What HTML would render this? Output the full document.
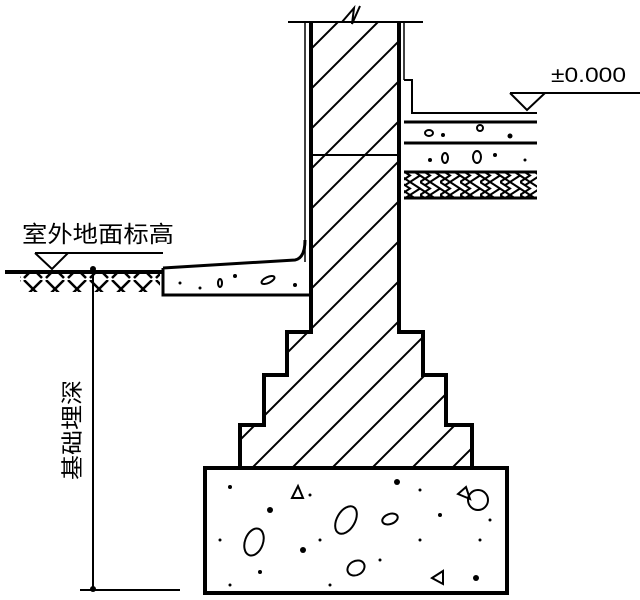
<!DOCTYPE html>
<html><head><meta charset="utf-8"><style>html,body{margin:0;padding:0;background:#fff}svg{display:block}</style></head>
<body>
<svg width="640" height="600" viewBox="0 0 640 600" xmlns="http://www.w3.org/2000/svg">
<defs>
<clipPath id="brick"><path d="M311,22 H399 V332 H423 V375 H446 V425 H472 V468 H240 V425 H264 V375 H287 V332 H311 Z"/></clipPath>
<pattern id="earth" width="22" height="20" patternUnits="userSpaceOnUse"><path d="M2,0 L20,18 M20,0 L2,18" stroke="#000" stroke-width="2.5" fill="none"/></pattern>
<pattern id="herr" width="20" height="13" patternUnits="userSpaceOnUse"><path d="M0,0 L10,6.5 L0,13 M10,0 L20,6.5 L10,13 M5,3.25 L15,-3.25 M15,9.75 L25,3.25 M5,9.75 L-5,3.25 M5,3.25 L-5,-3.25 M15,16.25 L5,9.75" stroke="#000" stroke-width="2" fill="none"/></pattern>
</defs>
<g clip-path="url(#brick)" stroke="#000" stroke-width="2">
<path d="M0,320 L320,0 M0,360 L360,0 M0,400 L400,0 M0,440 L440,0 M0,480 L480,0 M0,520 L520,0 M0,560 L560,0 M0,600 L600,0 M40,600 L640,0 M80,600 L680,0 M120,600 L720,0 M160,600 L760,0 M200,600 L800,0 M240,600 L840,0 M280,600 L880,0 M320,600 L920,0 M360,600 L960,0"/>
</g>
<path d="M311,22 V332 H287 V375 H264 V425 H240 V468 M399,22 V332 H423 V375 H446 V425 H472 V468" stroke="#000" stroke-width="4" fill="none"/>
<path d="M305,22 V262 M404,22 V80" stroke="#000" stroke-width="1.5" fill="none"/>
<path d="M288,22 H423" stroke="#000" stroke-width="2"/>
<path d="M342,22 L354,8 L352,24 L360,6" stroke="#000" stroke-width="2" fill="#fff"/>
<path d="M311,155 H399" stroke="#000" stroke-width="2"/>
<path d="M404,80 H412 V113 H537" stroke="#000" stroke-width="2" fill="none"/>
<path d="M404,122 H537 M404,143 H537 M404,172 H537 M404,198 H537" stroke="#000" stroke-width="3"/>
<rect x="404" y="173" width="133" height="24" fill="url(#herr)"/>
<g fill="none" stroke="#000" stroke-width="2">
<ellipse cx="429" cy="133" rx="4" ry="3"/><ellipse cx="480" cy="128" rx="3" ry="3"/>
<ellipse cx="445" cy="158" rx="3" ry="5"/><ellipse cx="477" cy="157" rx="4" ry="6"/>
</g>
<g fill="#000"><circle cx="443" cy="135" r="2"/><circle cx="510" cy="136" r="2.5"/><circle cx="495" cy="155" r="2"/><circle cx="430" cy="160" r="2"/><circle cx="525" cy="160" r="1.5"/></g>
<path d="M510,93 H640 M510,93 L527,110 L545,93" stroke="#000" stroke-width="2" fill="none"/>
<text x="551" y="82" font-family="Liberation Sans, sans-serif" font-size="21" fill="#000" textLength="75" lengthAdjust="spacingAndGlyphs">±0.000</text>
<text x="22" y="242" font-family="Liberation Sans, Noto Sans CJK SC, sans-serif" font-size="23" fill="#000" textLength="152" lengthAdjust="spacingAndGlyphs">室外地面标高</text>
<path d="M35,253 H163 M35,253 L52,269 L68,253" stroke="#000" stroke-width="2" fill="none"/>
<path d="M5,272 H163" stroke="#000" stroke-width="4"/>
<rect x="20" y="274" width="140" height="18" fill="url(#earth)"/>
<path d="M163,268 L295,260 Q305,258 305,240 M163,268 V295 H311" stroke="#000" stroke-width="3" fill="none"/>
<ellipse cx="268" cy="280" rx="7" ry="3" transform="rotate(-25 268 280)" fill="none" stroke="#000" stroke-width="2"/>
<ellipse cx="220" cy="283" rx="2" ry="4" fill="none" stroke="#000" stroke-width="2"/>
<g fill="#000"><circle cx="180" cy="283" r="1.5"/><circle cx="235" cy="276" r="2"/><circle cx="295" cy="285" r="2"/><circle cx="200" cy="288" r="1.5"/></g>
<path d="M93,268 V590 M80,590 H180" stroke="#000" stroke-width="2"/>
<circle cx="93" cy="269" r="3" fill="#000"/><circle cx="93" cy="589" r="3" fill="#000"/>
<text font-family="Liberation Sans, Noto Sans CJK SC, sans-serif" font-size="22" fill="#000" transform="translate(80,480) rotate(-90)" textLength="100" lengthAdjust="spacingAndGlyphs">基础埋深</text>
<rect x="205" y="468" width="302" height="125" fill="#fff" stroke="#000" stroke-width="4"/>
<g fill="none" stroke="#000" stroke-width="2">
<ellipse cx="254" cy="542" rx="9" ry="14" transform="rotate(20 254 542)"/>
<ellipse cx="346" cy="520" rx="9" ry="15" transform="rotate(30 346 520)"/>
<ellipse cx="390" cy="519" rx="8" ry="5" transform="rotate(-20 390 519)"/>
<ellipse cx="356" cy="568" rx="9" ry="7" transform="rotate(-30 356 568)"/>
<ellipse cx="478" cy="500" rx="10" ry="10"/>
<path d="M292,498 L298,486 L303,498 Z M458,494 L466,487 L470,499 Z M432,578 L443,571 L443,584 Z"/>
</g>
<g fill="#000"><circle cx="397" cy="482" r="3"/><circle cx="270" cy="510" r="3"/><circle cx="303" cy="550" r="3"/><circle cx="476" cy="578" r="3"/><circle cx="230" cy="487" r="2"/><circle cx="260" cy="572" r="2"/><circle cx="320" cy="540" r="1.5"/><circle cx="420" cy="540" r="1.5"/><circle cx="440" cy="515" r="2"/><circle cx="480" cy="540" r="1.5"/><circle cx="220" cy="540" r="1.5"/><circle cx="380" cy="560" r="1.5"/><circle cx="420" cy="490" r="1.5"/><circle cx="330" cy="585" r="1.5"/><circle cx="230" cy="585" r="1.5"/><circle cx="490" cy="520" r="1.5"/><circle cx="310" cy="495" r="1.5"/></g>
</svg>
</body></html>
